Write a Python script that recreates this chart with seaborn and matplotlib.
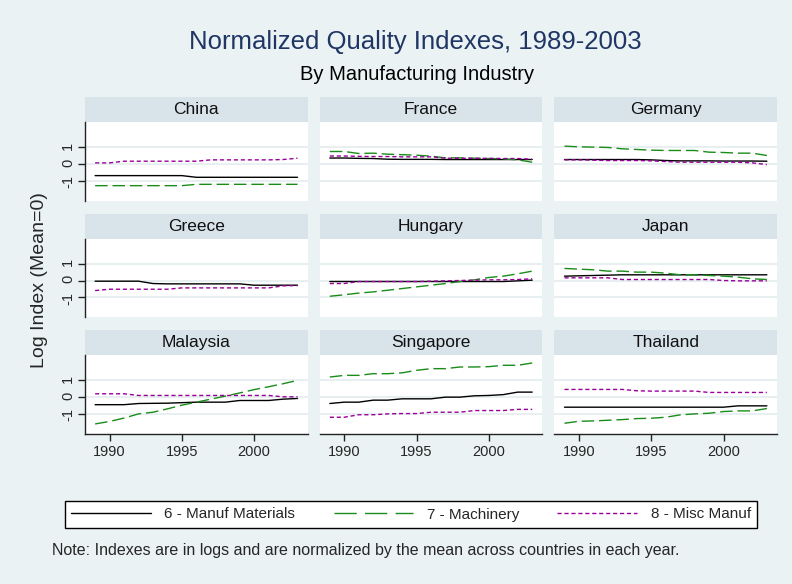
import numpy as np
import pandas as pd
import seaborn as sns
import matplotlib.pyplot as plt
from matplotlib.patches import Rectangle
from matplotlib.lines import Line2D

years = list(range(1989, 2004))
countries = ["China", "France", "Germany", "Greece", "Hungary", "Japan",
             "Malaysia", "Singapore", "Thailand"]
industries = ["6 - Manuf Materials", "7 - Machinery", "8 - Misc Manuf"]

# values, one list per country and industry
china_mat = [-0.70, -0.70, -0.70, -0.70, -0.70, -0.70, -0.70, -0.80, -0.80, -0.80, -0.80, -0.80, -0.80, -0.80, -0.80]
china_mach = [-1.30, -1.30, -1.30, -1.30, -1.30, -1.30, -1.30, -1.22, -1.22, -1.22, -1.22, -1.22, -1.22, -1.22, -1.22]
china_misc = [0.06, 0.06, 0.16, 0.16, 0.16, 0.16, 0.16, 0.16, 0.24, 0.24, 0.24, 0.24, 0.24, 0.26, 0.34]

france_mat = [0.35, 0.35, 0.33, 0.32, 0.28, 0.27, 0.27, 0.27, 0.26, 0.26, 0.26, 0.26, 0.26, 0.26, 0.26]
france_mach = [0.74, 0.74, 0.62, 0.64, 0.58, 0.55, 0.52, 0.46, 0.36, 0.36, 0.34, 0.32, 0.30, 0.24, 0.10]
france_misc = [0.47, 0.47, 0.45, 0.44, 0.44, 0.42, 0.42, 0.42, 0.34, 0.34, 0.33, 0.33, 0.32, 0.32, 0.28]

germany_mat = [0.26, 0.26, 0.26, 0.26, 0.26, 0.26, 0.24, 0.20, 0.18, 0.18, 0.18, 0.17, 0.17, 0.17, 0.16]
germany_mach = [1.06, 1.02, 1.00, 0.98, 0.90, 0.86, 0.82, 0.80, 0.80, 0.80, 0.70, 0.68, 0.64, 0.64, 0.50]
germany_misc = [0.24, 0.24, 0.22, 0.20, 0.20, 0.20, 0.18, 0.14, 0.10, 0.10, 0.10, 0.10, 0.10, 0.06, -0.04]

greece_mat = [-0.04, -0.04, -0.04, -0.04, -0.18, -0.20, -0.20, -0.20, -0.20, -0.20, -0.20, -0.28, -0.28, -0.28, -0.28]
greece_mach = [np.nan] * 15
greece_misc = [-0.60, -0.52, -0.52, -0.52, -0.52, -0.52, -0.44, -0.44, -0.44, -0.44, -0.44, -0.44, -0.44, -0.32, -0.30]

hungary_mat = [-0.06, -0.06, -0.06, -0.06, -0.06, -0.06, -0.06, -0.06, -0.06, -0.06, -0.06, -0.06, -0.06, -0.02, 0.02]
hungary_mach = [-0.94, -0.85, -0.75, -0.68, -0.58, -0.48, -0.38, -0.28, -0.18, -0.06, 0.04, 0.18, 0.26, 0.40, 0.56]
hungary_misc = [-0.18, -0.18, -0.06, -0.06, -0.06, -0.06, -0.06, -0.04, -0.02, 0.00, 0.02, 0.04, 0.04, 0.06, 0.10]

japan_mat = [0.26, 0.28, 0.30, 0.32, 0.34, 0.34, 0.34, 0.34, 0.34, 0.34, 0.34, 0.34, 0.34, 0.34, 0.34]
japan_mach = [0.72, 0.68, 0.64, 0.56, 0.56, 0.50, 0.50, 0.44, 0.34, 0.34, 0.30, 0.26, 0.20, 0.10, 0.06]
japan_misc = [0.16, 0.16, 0.16, 0.16, 0.06, 0.06, 0.06, 0.06, 0.06, 0.06, 0.06, 0.00, -0.02, -0.02, -0.02]

malaysia_mat = [-0.45, -0.45, -0.45, -0.38, -0.37, -0.36, -0.33, -0.30, -0.30, -0.30, -0.20, -0.20, -0.20, -0.12, -0.08]
malaysia_mach = [-1.60, -1.45, -1.25, -1.00, -0.90, -0.70, -0.48, -0.30, -0.12, 0.06, 0.25, 0.45, 0.62, 0.80, 1.00]
malaysia_misc = [0.20, 0.20, 0.20, 0.10, 0.10, 0.10, 0.10, 0.10, 0.10, 0.10, 0.10, 0.10, 0.10, 0.02, 0.02]

singapore_mat = [-0.38, -0.30, -0.30, -0.18, -0.18, -0.10, -0.10, -0.10, 0.00, 0.00, 0.08, 0.10, 0.15, 0.30, 0.30]
singapore_mach = [1.20, 1.30, 1.30, 1.40, 1.40, 1.45, 1.60, 1.70, 1.70, 1.80, 1.80, 1.82, 1.90, 1.90, 2.04]
singapore_misc = [-1.20, -1.20, -1.05, -1.05, -1.00, -0.98, -0.98, -0.90, -0.90, -0.90, -0.80, -0.80, -0.80, -0.73, -0.73]

thailand_mat = [-0.60, -0.60, -0.60, -0.60, -0.60, -0.60, -0.60, -0.60, -0.60, -0.60, -0.60, -0.60, -0.52, -0.52, -0.52]
thailand_mach = [-1.56, -1.44, -1.42, -1.38, -1.34, -1.28, -1.26, -1.20, -1.06, -1.00, -0.96, -0.86, -0.82, -0.82, -0.68]
thailand_misc = [0.46, 0.46, 0.46, 0.46, 0.46, 0.38, 0.36, 0.36, 0.36, 0.36, 0.28, 0.28, 0.28, 0.28, 0.28]

series = {
    "China": (china_mat, china_mach, china_misc),
    "France": (france_mat, france_mach, france_misc),
    "Germany": (germany_mat, germany_mach, germany_misc),
    "Greece": (greece_mat, greece_mach, greece_misc),
    "Hungary": (hungary_mat, hungary_mach, hungary_misc),
    "Japan": (japan_mat, japan_mach, japan_misc),
    "Malaysia": (malaysia_mat, malaysia_mach, malaysia_misc),
    "Singapore": (singapore_mat, singapore_mach, singapore_misc),
    "Thailand": (thailand_mat, thailand_mach, thailand_misc),
}

rows = []
for c in countries:
    for ind, vals in zip(industries, series[c]):
        for y, v in zip(years, vals):
            rows.append((c, ind, y, v))
df = pd.DataFrame(rows, columns=["country", "industry", "year", "value"])

sns.set_style("white")
plt.rcParams["font.family"] = ["Liberation Sans", "DejaVu Sans"]
plt.rcParams["axes.unicode_minus"] = False

bg = "#EAF2F3"
strip_col = "#D9E4EA"
pal = {industries[0]: "black", industries[1]: "#1A8C1A", industries[2]: "#990099"}
dash_map = {industries[0]: "", industries[1]: (9, 3.5), industries[2]: (3, 2)}

g = sns.relplot(data=df, x="year", y="value", col="country", col_wrap=3,
                hue="industry", style="industry", kind="line",
                col_order=countries, hue_order=industries, style_order=industries,
                palette=pal, dashes=dash_map, linewidth=1.0, legend=False,
                height=2, aspect=1.3, facet_kws=dict(sharex=True, sharey=True))
fig = g.figure
fig.set_size_inches(7.92, 5.84)
fig.set_facecolor(bg)
fig.subplots_adjust(left=85/792, right=777/792, top=1-122/584, bottom=1-434/584,
                    wspace=12/222, hspace=38/79)

g.set(xlim=(1988.3, 2003.7), ylim=(-2.2, 2.5), xticks=[1990, 1995, 2000], yticks=[-1, 0, 1])
g.set_titles("")
g.set_axis_labels("", "")

strip_h = 25 / 79
for i, ax in enumerate(g.axes.flat):
    r, c = divmod(i, 3)
    ax.set_facecolor("white")
    ax.grid(axis="y", color="#E3ECEF", linewidth=1.2)
    ax.grid(axis="x", visible=False)
    ax.set_axisbelow(True)
    for s in ["top", "right"]:
        ax.spines[s].set_visible(False)
    ax.spines["left"].set_visible(c == 0)
    ax.spines["bottom"].set_visible(r == 2)
    for s in ["left", "bottom"]:
        ax.spines[s].set_color("#222222")
        ax.spines[s].set_linewidth(1.0)
    ax.tick_params(axis="y", left=(c == 0), labelleft=(c == 0), labelrotation=90,
                   length=5, width=1.0, labelsize=10.5, pad=2, color="#222222")
    ax.tick_params(axis="x", bottom=(r == 2), labelbottom=(r == 2),
                   length=5, width=1.0, labelsize=10.5, pad=3, color="#222222")
    ax.add_patch(Rectangle((0, 1), 1, strip_h, transform=ax.transAxes,
                           facecolor=strip_col, edgecolor="none", clip_on=False))
    ax.text(0.5, 1 + strip_h / 2, countries[i], transform=ax.transAxes,
            ha="center", va="center", fontsize=12.5, color="#111111")

fig.text(0.525, 1-42/584, "Normalized Quality Indexes, 1989-2003", ha="center", va="center",
         fontsize=18.5, color="#1F3564")
fig.text(0.527, 1-74/584, "By Manufacturing Industry", ha="center", va="center",
         fontsize=14.5, color="black")
fig.text(40/792, 1-280/584, "Log Index (Mean=0)", rotation=90, ha="center", va="center",
         fontsize=14)

handles = [Line2D([], [], color=pal[industries[0]], lw=1.0),
           Line2D([], [], color=pal[industries[1]], lw=1.0, dashes=(16, 6)),
           Line2D([], [], color=pal[industries[2]], lw=1.0, dashes=(3, 2))]
leg = fig.legend(handles, industries, loc="center",
                 bbox_to_anchor=(65/792, 1-532/584, 692/792, 35/584), mode="expand",
                 ncol=3, frameon=True, fancybox=False, edgecolor="black", framealpha=1,
                 handlelength=5.2, handletextpad=0.9, fontsize=11, borderaxespad=0)
leg.get_frame().set_linewidth(1.0)

fig.text(52/792, 1-551/584,
         "Note: Indexes are in logs and are normalized by the mean across countries in each year.",
         ha="left", va="center", fontsize=11.5)

fig.savefig("out.png", dpi=100, facecolor=bg)
